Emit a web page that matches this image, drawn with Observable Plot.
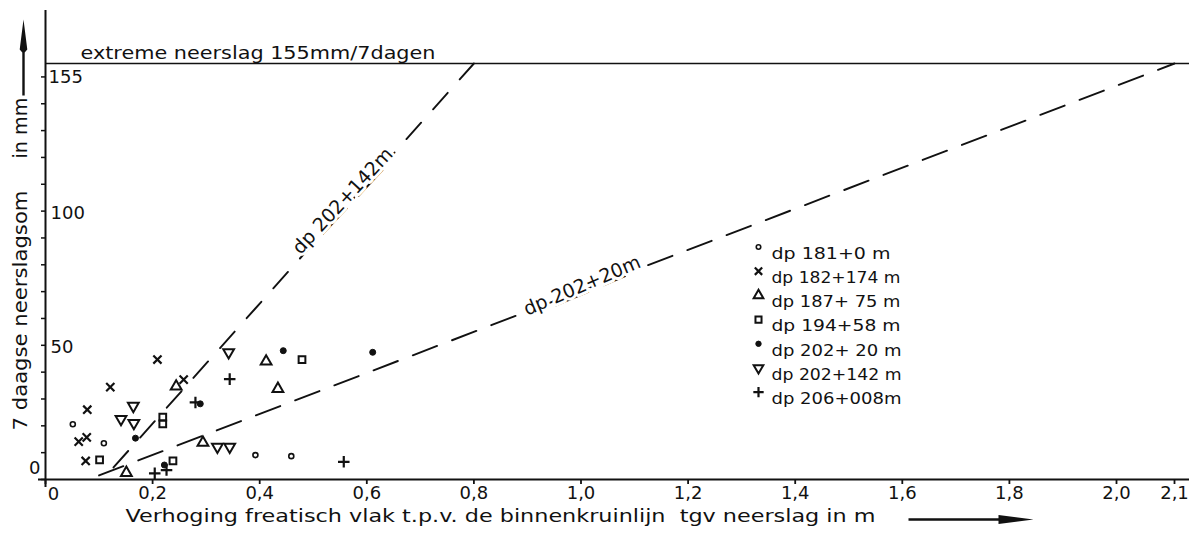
<!DOCTYPE html>
<html><head><meta charset="utf-8">
<script src="https://cdn.jsdelivr.net/npm/d3@7"></script>
<script src="https://cdn.jsdelivr.net/npm/@observablehq/plot@0.6"></script>
<style>
html,body{margin:0;padding:0;background:#fff;}
#chart{width:1189px;height:534px;overflow:hidden;}
</style></head><body><div id="chart"></div>
<script>
// ---------- data ----------
const seriesLabels = ["dp 181+0 m", "dp 182+174 m", "dp 187+ 75 m", "dp 194+58 m", "dp 202+ 20 m", "dp 202+142 m", "dp 206+008m"];
// [verhoging in m, 7-daagse neerslagsom in mm]
const dp181_0   = [[0.051, 20.6], [0.109, 13.5], [0.392, 9.1], [0.459, 8.7]];
const dp182_174 = [[0.209, 44.7], [0.121, 34.4], [0.078, 26.0], [0.062, 14.1], [0.077, 15.7], [0.075, 6.9], [0.258, 37.2]];
const dp187_75  = [[0.151, 2.5], [0.244, 34.7], [0.412, 44.0], [0.434, 33.8], [0.294, 13.7]];
const dp194_58  = [[0.101, 7.3], [0.238, 6.9], [0.219, 23.2], [0.219, 20.7], [0.479, 44.7]];
const dp202_20  = [[0.168, 15.4], [0.222, 5.4], [0.289, 28.2], [0.444, 48.0], [0.611, 47.4]];
const dp202_142 = [[0.164, 27.4], [0.141, 22.5], [0.165, 21.0], [0.342, 47.4], [0.321, 12.2], [0.344, 12.2]];
const dp206_008 = [[0.204, 2.3], [0.226, 3.5], [0.280, 28.7], [0.344, 37.4], [0.557, 6.6]];
const seriesData = [dp181_0, dp182_174, dp187_75, dp194_58, dp202_20, dp202_142, dp206_008];

const line202_142 = [[0.127, 4.5], [0.8, 155]];
const line202_20  = [[0.1, 1.5], [2.1, 155]];
const lineLabels  = ["dp 202+142m", "dp 202+20m"];

const extremeValue = 155;
const extremeLabel = "extreme neerslag 155mm/7dagen";

const xTickValues = [0, 0.2, 0.4, 0.6, 0.8, 1.0, 1.2, 1.4, 1.6, 1.8, 2.0, 2.1];
const xTickLabels = ["0", "0,2", "0,4", "0,6", "0,8", "1,0", "1,2", "1,4", "1,6", "1,8", "2,0", "2,1"];
const yTickValues = [0, 10, 20, 30, 40, 50, 60, 70, 80, 90, 100, 110, 120, 130, 140, 150];
const yLabelValues = [50, 100];
const yLabelTexts  = ["50", "100"];
const yZeroLabel = "0";

const xTitle = "Verhoging freatisch vlak t.p.v. de binnenkruinlijn  tgv neerslag in m";
const yTitle = "7 daagse neerslagsom";
const yUnit  = "in mm";

// ---------- styles ----------
const FONT = "'DejaVu Sans', Verdana, sans-serif";
const INK = "#111";
const triDown = {draw(ctx, size) {
  const y = Math.sqrt(size / (Math.sqrt(3) * 3));
  ctx.moveTo(0, y * 2); ctx.lineTo(-Math.sqrt(3) * y, -y); ctx.lineTo(Math.sqrt(3) * y, -y); ctx.closePath();
}};
const tickLeft = {draw(ctx, size) { const r = Math.sqrt(size / Math.PI); ctx.moveTo(-r, 0); ctx.lineTo(0, 0); }};
const tickDown = {draw(ctx, size) { const r = Math.sqrt(size / Math.PI); ctx.moveTo(0, 0); ctx.lineTo(0, r); }};
const yArrow = {draw(ctx) {
  ctx.moveTo(0, -38); ctx.lineTo(3.8, -8); ctx.lineTo(1.2, -5); ctx.lineTo(1.2, 38);
  ctx.lineTo(-1.2, 38); ctx.lineTo(-1.2, -5); ctx.lineTo(-3.8, -8); ctx.closePath();
}};
const xArrow = {draw(ctx) {
  ctx.moveTo(-63, -1.2); ctx.lineTo(27, -1.2); ctx.lineTo(27, -4.6); ctx.lineTo(62, 0);
  ctx.lineTo(27, 4.6); ctx.lineTo(27, 1.2); ctx.lineTo(-63, 1.2); ctx.closePath();
}};
const symbolStyles = [
  {symbol: "circle", r: 2.5, fill: "white", strokeWidth: 1.6},
  {symbol: "times", r: 3.8, fill: "none", strokeWidth: 2.2},
  {symbol: "triangle", r: 4.0, fill: "none", strokeWidth: 2.0},
  {symbol: "square", r: 3.8, fill: "none", strokeWidth: 2.0},
  {symbol: "circle", r: 3.0, fill: INK, strokeWidth: 1},
  {symbol: triDown, r: 4.0, fill: "none", strokeWidth: 2.0},
  {symbol: "plus", r: 3.8, fill: "none", strokeWidth: 2.2}
];

const xTicksTable = xTickValues.map((v, i) => ({v, label: xTickLabels[i]}));
const yLabelTable = yLabelValues.map((v, i) => ({v, label: yLabelTexts[i]}));
const along = (seg, t) => [seg[0][0] + t * (seg[1][0] - seg[0][0]), seg[0][1] + t * (seg[1][1] - seg[0][1])];
const lab142 = along(line202_142, 0.65);
const lab20 = along(line202_20, 0.451);

const marks = [
  // axes lines
  Plot.ruleX([0], {stroke: INK, strokeWidth: 2}),
  Plot.ruleY([0], {stroke: INK, strokeWidth: 2}),
  Plot.ruleY([extremeValue], {x1: 0, x2: 2.2, stroke: INK, strokeWidth: 1.6}),
  // ticks
  Plot.dot(yTickValues, {x: 0, y: d => d, symbol: tickLeft, r: 4.5, stroke: INK, strokeWidth: 1.5, fill: "none"}),
  Plot.dot(xTickValues, {x: d => d, y: 0, symbol: tickDown, r: 4.5, stroke: INK, strokeWidth: 1.8, fill: "none"}),
  // tick labels
  Plot.text(xTicksTable.slice(1), {x: "v", y: 0, text: "label", dy: 14, fontSize: 18, fill: INK}),
  Plot.text(xTicksTable.slice(0, 1), {x: "v", y: 0, text: "label", dy: 15, dx: 8, fontSize: 18, fill: INK}),
  Plot.text(yLabelTable, {x: 0, y: "v", text: "label", dx: 5, dy: 2, textAnchor: "start", fontSize: 18, fill: INK}),
  Plot.text([yZeroLabel], {x: 0, y: 0, text: d => d, dx: -5, dy: -11, textAnchor: "end", fontSize: 18, fill: INK}),
  Plot.text([extremeValue], {x: 0, y: d => d, text: d => String(d), dx: 3, dy: 14, textAnchor: "start", fontSize: 18, fill: INK}),
  Plot.text([extremeLabel], {y: extremeValue, frameAnchor: "left", text: d => d, dx: 42, dy: -10.5, textAnchor: "start", fontSize: 18, fill: INK}),
  // dashed relations
  Plot.line(line202_142, {x: d => d[0], y: d => d[1], stroke: INK, strokeWidth: 1.9, strokeDasharray: "22,18"}),
  Plot.line(line202_20, {x: d => d[0], y: d => d[1], stroke: INK, strokeWidth: 1.9, strokeDasharray: "26,16"}),
  Plot.text([lineLabels[0]], {x: lab142[0], y: lab142[1], text: d => d, rotate: -47, dx: -5, dy: -4, fontSize: 19, fill: INK, stroke: "white", strokeWidth: 6}),
  Plot.text([lineLabels[1]], {x: lab20[0], y: lab20[1], text: d => d, rotate: -23, dx: 0, dy: -4, fontSize: 19, fill: INK, stroke: "white", strokeWidth: 6}),
  // axis titles (rotated, anchored at their lower end)
  Plot.text([yTitle], {frameAnchor: "left", text: d => d, rotate: -90, textAnchor: "start", dx: -18, dy: 181.5, fontSize: 19, fill: INK}),
  Plot.text([yUnit], {frameAnchor: "left", text: d => d, rotate: -90, textAnchor: "start", dx: -18, dy: -90.5, fontSize: 19, fill: INK}),
  Plot.text([xTitle], {frameAnchor: "bottom-left", text: d => d, textAnchor: "start", dx: 87, dy: 34, fontSize: 18, fill: INK}),
  Plot.dot([0], {frameAnchor: "top-left", dx: -15, dy: 47, symbol: yArrow, r: 1, fill: INK, stroke: "none"}),
  Plot.dot([0], {frameAnchor: "top-left", dx: 933, dy: 509, symbol: xArrow, r: 1, fill: INK, stroke: "none"})
];

// data points
seriesData.forEach((pts, i) => {
  const s = symbolStyles[i];
  marks.push(Plot.dot(pts, {x: d => d[0], y: d => d[1], symbol: s.symbol, r: s.r, fill: s.fill, stroke: INK, strokeWidth: s.strokeWidth}));
});
// legend
seriesLabels.forEach((lab, i) => {
  const s = symbolStyles[i];
  const dy = 236.5 + 24.2 * i;
  marks.push(Plot.dot([lab], {frameAnchor: "top-left", dx: 720, dy, symbol: s.symbol, r: s.r * 0.9, fill: s.fill, stroke: INK, strokeWidth: s.strokeWidth}));
  marks.push(Plot.text([lab], {frameAnchor: "top-left", dx: 733, dy, text: d => d, textAnchor: "start", fontSize: 16.5, fill: INK}));
});

const plot = Plot.plot({
  width: 1189,
  height: 534,
  marginLeft: 38,
  marginRight: 0,
  marginTop: 10,
  marginBottom: 47,
  x: {type: "linear", domain: [0, 2.0, 2.1], range: [45, 1116, 1174], axis: null},
  y: {type: "linear", domain: [0, 155], range: [479, 63], axis: null},
  style: {fontFamily: FONT, background: "white", color: INK, overflow: "visible"},
  marks
});
document.getElementById("chart").appendChild(plot);

// fit hand-lettered widths and underline the dp numbers on the relation lines
const widths = new Map([[xTitle, 750], [yTitle, 240], [yUnit, 61], [extremeLabel, 355],
  [seriesLabels[0], 119], [seriesLabels[1], 129], [seriesLabels[2], 129], [seriesLabels[3], 129],
  [seriesLabels[4], 130], [seriesLabels[5], 130], [seriesLabels[6], 130]]);
d3.select(plot).selectAll("text").each(function() {
  const t = this.textContent;
  if (widths.has(t)) { this.setAttribute("textLength", widths.get(t)); this.setAttribute("lengthAdjust", "spacingAndGlyphs"); }
  const under = t === lineLabels[0] ? [["dp ", false], ["202", true], ["+", false], ["142", true], ["m", false]]
              : t === lineLabels[1] ? [["dp ", false], ["202", true], ["+", false], ["20", true], ["m", false]] : null;
  if (under) {
    this.textContent = "";
    under.forEach(([s, u]) => {
      const ts = document.createElementNS("http://www.w3.org/2000/svg", "tspan");
      ts.textContent = s;
      if (u) ts.setAttribute("text-decoration", "underline");
      this.appendChild(ts);
    });
  }
});
</script></body></html>
